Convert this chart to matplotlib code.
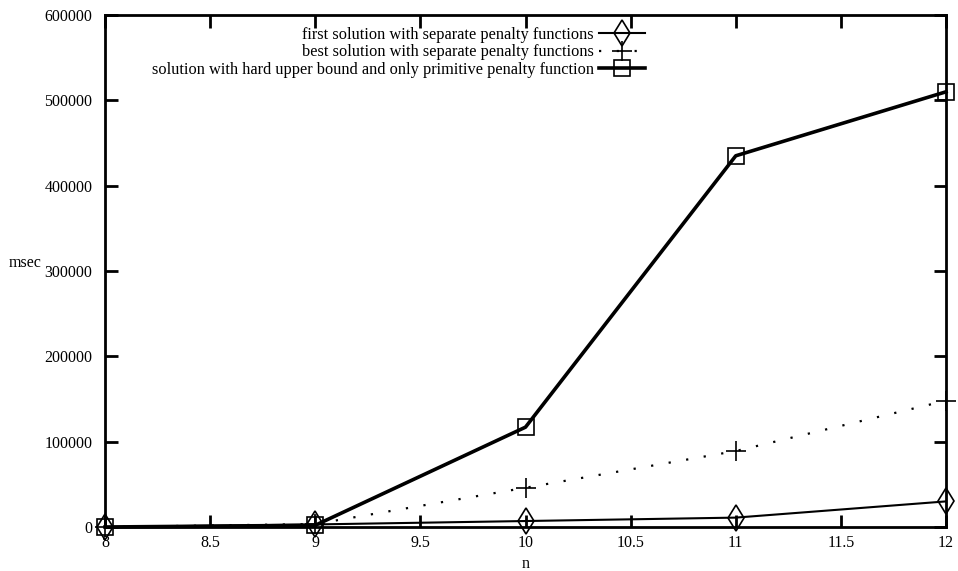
import numpy as np
import matplotlib.pyplot as plt

n = [8, 9, 10, 11, 12]
first_sep = [0, 3000, 7000, 11000, 30000]
best_sep = [0, 3500, 46000, 89000, 148000]
hard_bound = [0, 2000, 117000, 435000, 510000]

labels = ['first solution with separate penalty functions',
          'best solution with separate penalty functions',
          'solution with hard upper bound and only primitive penalty function']

plt.rcParams['font.family'] = ['Liberation Serif', 'DejaVu Serif']
plt.rcParams['font.size'] = 11.5

fig = plt.figure(figsize=(9.58, 5.71), dpi=100)
ax = fig.add_axes([105/958, 44/571, 841/958, 512/571])

ax.plot(n, first_sep, color='black', lw=1.5, marker='d', ms=13,
        mfc='none', mec='black', mew=1.2, label=labels[0], clip_on=False, zorder=3)
ax.plot(n, best_sep, color='black', lw=1.6, ls=(0, (1, 7)), marker='+', ms=14,
        mew=1.2, label=labels[1], clip_on=False, zorder=3)
ax.plot(n, hard_bound, color='black', lw=2.6, marker='s', ms=12,
        mfc='none', mec='black', mew=1.2, label=labels[2], clip_on=False, zorder=3)

ax.set_xlim(8, 12)
ax.set_ylim(0, 600000)
ax.set_xticks(np.arange(8, 12.01, 0.5))
ax.set_xticklabels(['8', '8.5', '9', '9.5', '10', '10.5', '11', '11.5', '12'])
ax.set_yticks(np.arange(0, 600001, 100000))
ax.tick_params(direction='in', length=9, width=2, top=True, right=True)
ax.tick_params(axis='x', pad=6)
ax.tick_params(axis='y', pad=9)
for s in ax.spines.values():
    s.set_linewidth(2)

ax.set_xlabel('n', labelpad=3)
ax.set_ylabel('msec', rotation=0)
ax.yaxis.set_label_coords(-0.095, 0.5)

ax.legend(loc='upper right', bbox_to_anchor=(0.642, 0.977), frameon=False,
          markerfirst=False, handlelength=2.8, handletextpad=0.3,
          labelspacing=0.1, borderpad=0, borderaxespad=0, fontsize=11.8)

plt.savefig('out.png', dpi=100)
plt.close()
